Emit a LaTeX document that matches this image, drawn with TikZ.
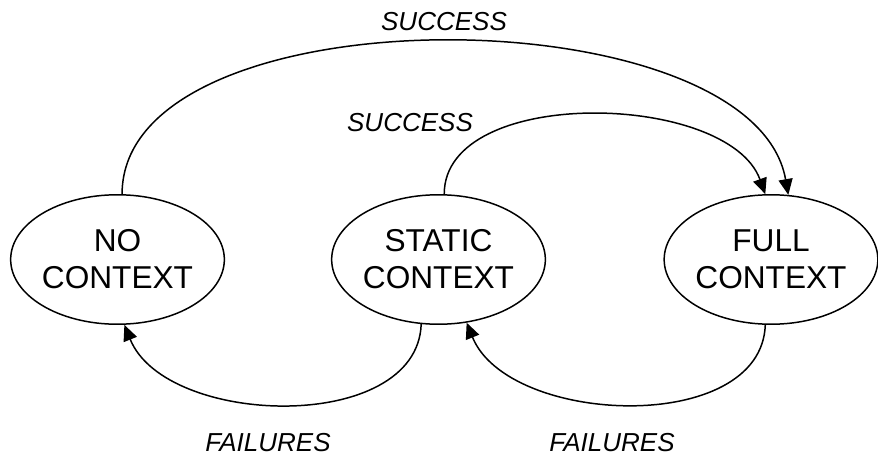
\documentclass[tikz,border=0pt]{standalone}
\usepackage{fontspec}
\setmainfont{Liberation Sans}
\usetikzlibrary{shapes.geometric,arrows.meta}

\begin{document}
\begin{tikzpicture}[x=0.02cm,y=-0.02cm]
        \useasboundingbox (0,0) rectangle (878,456);
        \begin{scope}[every node/.style={ellipse,draw=black,line width=0.85pt,minimum width=4.03cm,minimum height=2.59cm,inner sep=0pt,align=center,font=\fontsize{18}{21}\selectfont}]
            \node (1) at (117.5,259.5) {NO\\CONTEXT};
            \node (2) at (438.5,259.5) {STATIC\\CONTEXT};
            \node (3) at (771,259.5) {FULL\\CONTEXT};
        \end{scope}
        \begin{scope}[every node/.style={font=\fontsize{14.8}{17}\selectfont\itshape}]
            \node (s1) at (444,22) {SUCCESS};
            \node (s2) at (410,123) {SUCCESS};
            \node (f1) at (268,443) {FAILURES};
            \node (f2) at (612,443) {FAILURES};
        \end{scope}
        \begin{scope}[every edge/.style={draw,line width=0.85pt,-{Triangle[length=9pt,width=8pt]}}]
            \path (1.86) edge[out=90,in=100,looseness=0.79] (3.75);
            \path (2.85) edge[out=90,in=110,looseness=0.87] (3.95);

            \path (2.255) edge[out=268,in=292,looseness=0.95] (1.276);
            \path (3.265) edge[out=268,in=292,looseness=0.95] (2.294);
        \end{scope}
    \end{tikzpicture}
\end{document}
